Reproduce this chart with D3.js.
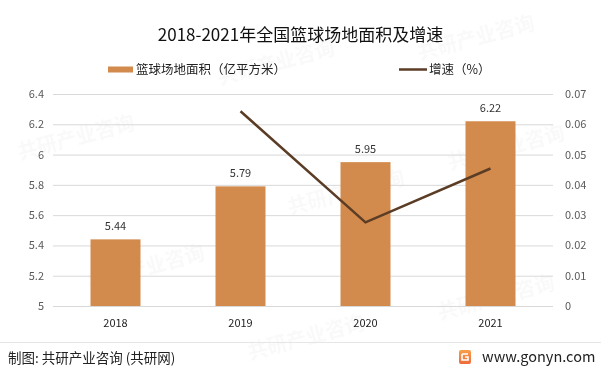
<!DOCTYPE html>
<html>
<head>
<meta charset="utf-8">
<script src="https://cdn.jsdelivr.net/npm/d3@7"></script>
<style>
  body { margin: 0; background: #fff; }
  svg text { font-family: "Noto Sans CJK SC", "Open Sans", sans-serif; }
</style>
</head>
<body>
<script>
// chart data
var years = ["2018", "2019", "2020", "2021"];
var area = [5.44, 5.79, 5.95, 6.22];
var growth = [null, 0.0643, 0.0276, 0.0454];
var leftTicks = [5, 5.2, 5.4, 5.6, 5.8, 6, 6.2, 6.4];
var rightTicks = [0, 0.01, 0.02, 0.03, 0.04, 0.05, 0.06, 0.07];

var W = 601, H = 375;
var plotL = 53, plotR = 553, plotT = 94, plotB = 306;
var barColor = "#d38b4d", lineColor = "#5b3d26", tickColor = "#595959";

var svg = d3.select("body").append("svg")
  .attr("width", W).attr("height", H);

svg.append("rect").attr("width", W).attr("height", H).attr("fill", "#fff");

// faint watermarks
var wm = svg.append("g").attr("fill", "#000").attr("opacity", 0.025)
  .attr("font-weight", "bold");
[[20, 160], [220, 85], [420, 60], [90, 290], [290, 215], [450, 170], [250, 360], [440, 320]].forEach(function (p) {
  wm.append("text")
    .attr("transform", "translate(" + p[0] + "," + p[1] + ") rotate(-15)")
    .attr("font-size", 20)
    .text("共研产业咨询");
});

var x = d3.scaleBand().domain(years).range([plotL, plotR]).paddingInner(0.6).paddingOuter(0.3);
var yL = d3.scaleLinear().domain([5, 6.4]).range([plotB, plotT]);
var yR = d3.scaleLinear().domain([0, 0.07]).range([plotB, plotT]);

// gridlines
svg.append("g").selectAll("line").data(leftTicks).join("line")
  .attr("x1", plotL).attr("x2", plotR)
  .attr("y1", function (d) { return yL(d) + 0.5; })
  .attr("y2", function (d) { return yL(d) + 0.5; })
  .attr("stroke", "#d9d9d9").attr("stroke-width", 1);

// left axis
var axL = svg.append("g").attr("transform", "translate(" + plotL + ",0)")
  .call(d3.axisLeft(yL).tickValues(leftTicks).tickSize(0).tickPadding(9).tickFormat(d3.format("~g")));
axL.select(".domain").remove();
axL.selectAll("text").attr("fill", tickColor).attr("font-size", 11);

// right axis
var axR = svg.append("g").attr("transform", "translate(" + plotR + ",0)")
  .call(d3.axisRight(yR).tickValues(rightTicks).tickSize(0).tickPadding(12).tickFormat(d3.format("~g")));
axR.select(".domain").remove();
axR.selectAll("text").attr("fill", tickColor).attr("font-size", 11);

// x axis
var axX = svg.append("g").attr("transform", "translate(0," + plotB + ")")
  .call(d3.axisBottom(x).tickSize(0).tickPadding(13));
axX.select(".domain").remove();
axX.selectAll("text").attr("fill", "#222").attr("font-size", 11);

// bars
svg.append("g").selectAll("rect").data(area).join("rect")
  .attr("x", function (d, i) { return x(years[i]); })
  .attr("width", x.bandwidth())
  .attr("y", function (d) { return yL(d); })
  .attr("height", function (d) { return plotB - yL(d); })
  .attr("fill", barColor);

svg.append("g").selectAll("text").data(area).join("text")
  .attr("x", function (d, i) { return x(years[i]) + x.bandwidth() / 2; })
  .attr("y", function (d) { return yL(d) - 9; })
  .attr("text-anchor", "middle")
  .attr("font-size", 11).attr("fill", "#333")
  .text(function (d) { return d.toFixed(2); });

// growth line
var pts = years.map(function (y, i) { return [y, growth[i]]; }).filter(function (p) { return p[1] != null; });
svg.append("path").datum(pts)
  .attr("fill", "none").attr("stroke", lineColor).attr("stroke-width", 2.5)
  .attr("d", d3.line()
    .x(function (d) { return x(d[0]) + x.bandwidth() / 2; })
    .y(function (d) { return yR(d[1]); }));

// title
svg.append("text").attr("x", W / 2).attr("y", 41)
  .attr("text-anchor", "middle").attr("font-size", 17).attr("fill", "#111")
  .text("2018-2021年全国篮球场地面积及增速");

// legend
svg.append("rect").attr("x", 108).attr("y", 66.5).attr("width", 25).attr("height", 6).attr("fill", barColor);
svg.append("text").attr("x", 136).attr("y", 74).attr("font-size", 12.5).attr("fill", "#222")
  .text("篮球场地面积（亿平方米）");
svg.append("line").attr("x1", 399).attr("x2", 427).attr("y1", 69.5).attr("y2", 69.5)
  .attr("stroke", lineColor).attr("stroke-width", 2.5);
svg.append("text").attr("x", 429).attr("y", 74).attr("font-size", 12.5).attr("fill", "#222")
  .text("增速（%）");

// footer
svg.append("line").attr("x1", 0).attr("x2", W).attr("y1", 342.5).attr("y2", 342.5)
  .attr("stroke", "#e6e6e6");
svg.append("text").attr("x", 8).attr("y", 363).attr("font-size", 13.5).attr("fill", "#222")
  .text("制图: 共研产业咨询 (共研网)");
var grad = svg.append("defs").append("linearGradient").attr("id", "lg")
  .attr("x1", 0).attr("y1", 0).attr("x2", 0).attr("y2", 1);
grad.append("stop").attr("offset", 0).attr("stop-color", "#f7a04a");
grad.append("stop").attr("offset", 1).attr("stop-color", "#ef6a3a");
svg.append("rect").attr("x", 459).attr("y", 350).attr("width", 12).attr("height", 14).attr("rx", 2)
  .attr("fill", "url(#lg)");
svg.append("path").attr("d", "M462,354 h6 M462,354 v6 h6 v-3 h-3")
  .attr("fill", "none").attr("stroke", "#fff").attr("stroke-width", 1.6);
svg.append("text").attr("x", 482).attr("y", 362).attr("font-size", 14.5).attr("fill", "#222")
  .text("www.gonyn.com");
</script>
</body>
</html>
